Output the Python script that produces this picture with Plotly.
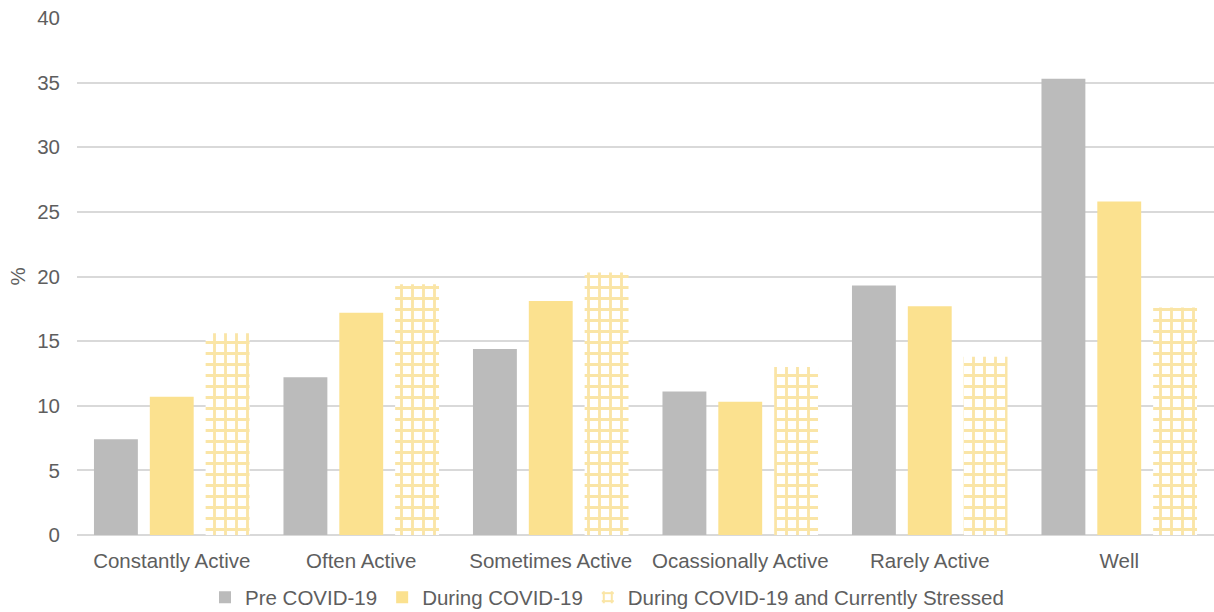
import plotly.graph_objects as go

categories = ["Constantly Active", "Often Active", "Sometimes Active",
              "Ocassionally Active", "Rarely Active", "Well"]
pre_covid = [7.4, 12.2, 14.4, 11.1, 19.3, 35.3]
during_covid = [10.7, 17.2, 18.1, 10.3, 17.7, 25.8]
during_stressed = [15.6, 19.4, 20.3, 13.0, 13.8, 17.6]
y_ticks = [0, 5, 10, 15, 20, 25, 30, 35, 40]

GRAY = "#BBBBBB"
YELLOW = "#FBE18F"
YELLOW_HATCH = "#F9DC88"
TEXT = "#5E5E5E"
FONT = "Liberation Sans, Arial, sans-serif"
FS = 20.5

fig = go.Figure()
fig.add_trace(go.Bar(name="Pre COVID-19", x=categories, y=pre_covid,
                     marker=dict(color=GRAY, line=dict(width=0))))
fig.add_trace(go.Bar(name="During COVID-19", x=categories, y=during_covid,
                     marker=dict(color=YELLOW, line=dict(width=0))))
fig.add_trace(go.Bar(name="During COVID-19 and Currently Stressed", x=categories,
                     y=during_stressed,
                     marker=dict(color="white", line=dict(width=0),
                                 pattern=dict(shape="+", fgcolor=YELLOW_HATCH,
                                              fgopacity=0.75, bgcolor="white",
                                              size=11, solidity=0.45,
                                              fillmode="replace"))))

fig.update_layout(
    width=1214, height=612,
    margin=dict(l=77, r=0, t=18, b=77),
    paper_bgcolor="white", plot_bgcolor="white",
    barmode="group", bargap=0.116, bargroupgap=0.214,
    font=dict(family=FONT, size=FS, color=TEXT),
    showlegend=True,
    legend=dict(orientation="h", xref="container", yref="container",
                x=0.5, xanchor="center", y=0.024, yanchor="middle",
                font=dict(size=FS, color=TEXT), itemwidth=30,
                traceorder="normal"),
    xaxis=dict(showgrid=False, showline=False, ticks="", ticklabelstandoff=11,
               tickfont=dict(size=FS, color=TEXT)),
    yaxis=dict(range=[0, 40], tickvals=y_ticks, showgrid=True, gridcolor="#D9D9D9",
               gridwidth=1.5, zeroline=True, zerolinecolor="#D9D9D9", zerolinewidth=1.5,
               ticks="", ticklabelstandoff=16,
               tickfont=dict(size=FS, color=TEXT),
               title=dict(text="%", font=dict(size=FS, color=TEXT), standoff=6)),
)

fig.write_html("out.html")
